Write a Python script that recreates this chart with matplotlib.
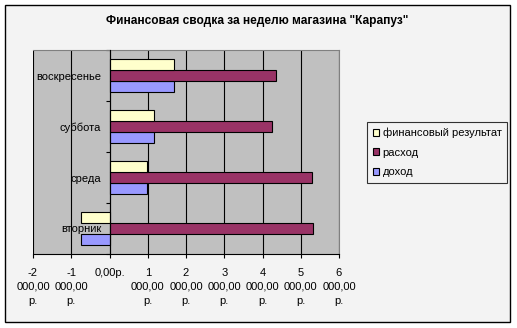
import matplotlib
matplotlib.use("Agg")
from matplotlib import pyplot as plt
from matplotlib.patches import Rectangle, Patch
import numpy as np

plt.rcParams['font.family'] = ['Liberation Sans', 'DejaVu Sans']

days = ['вторник', 'среда', 'суббота', 'воскресенье']
income = [-740, 980, 1160, 1680]
expense = [5320, 5300, 4250, 4350]
result = [-740, 980, 1160, 1680]

series_names = ['доход', 'расход', 'финансовый результат']
colors = ['#9999FF', '#993366', '#FFFFCC']

xticks = [-2000, -1000, 0, 1000, 2000, 3000, 4000, 5000, 6000]

def rub(v):
    # excel style currency label, wrapped like the narrow column does
    if v == 0:
        return '0,00р.'
    return '%d\n000,00\nр.' % (v // 1000)

fs = 8.0

fig = plt.figure(figsize=(5.17, 3.28), dpi=100, facecolor='white')
fig.patches.append(Rectangle((5/517, 1-322/328), 505/517, 317/328, transform=fig.transFigure,
                             facecolor='#F3F3F3', edgecolor='black', linewidth=1.0, zorder=-10))

ax = fig.add_axes([33/517, 1-254/328, 306/517, 204/328])
ax.set_facecolor('#C0C0C0')

y = np.arange(len(days))
h = 0.222
for off, vals, c in zip([-h, 0, h], [income, expense, result], colors):
    ax.barh(y + off, vals, height=h, color=c, edgecolor='black', linewidth=0.8, zorder=3)

ax.set_xlim(-2000, 6000)
ax.set_ylim(-0.5, 3.5)
ax.set_xticks(xticks)
ax.set_xticklabels([rub(v) for v in xticks], fontsize=fs, linespacing=1.5)
ax.tick_params(axis='x', direction='out', length=3, width=0.8, pad=7, color='black')
for v in xticks:
    ax.axvline(v, color='black', linewidth=0.8, zorder=1)

# category axis sits on zero
ax.spines['left'].set_position(('data', 0))
ax.spines['left'].set_linewidth(0.8)
ax.spines['left'].set_zorder(4)
ax.spines['bottom'].set_linewidth(0.8)
for s in ['top', 'right']:
    ax.spines[s].set_color('#808080')
    ax.spines[s].set_linewidth(0.8)
ax.set_yticks(np.arange(-0.5, 3.6, 1.0))
ax.set_yticklabels([])
ax.tick_params(axis='y', which='major', direction='out', length=3, width=0.8)
ax.set_yticks(y, minor=True)
ax.set_yticklabels(days, minor=True, fontsize=fs)
ax.tick_params(axis='y', which='minor', length=0, pad=6)
for t in ax.get_yticklabels(minor=True):
    t.set_zorder(5)

fig.text(0.497, 1-21/328, 'Финансовая сводка за неделю магазина "Карапуз"',
         ha='center', va='center', fontsize=8.6, fontweight='bold')

handles = [Patch(facecolor=colors[i], edgecolor='black', linewidth=0.8) for i in [2, 1, 0]]
labels = [series_names[i] for i in [2, 1, 0]]
leg = fig.legend(handles, labels, loc='upper left', bbox_to_anchor=(367/517, 1-122/328),
                 bbox_transform=fig.transFigure, borderaxespad=0, fontsize=fs,
                 handlelength=0.6, handleheight=0.6, handletextpad=0.3, labelspacing=0.85,
                 borderpad=0.5, fancybox=False, frameon=True)
leg.get_frame().set_edgecolor('black')
leg.get_frame().set_facecolor('#F3F3F3')
leg.get_frame().set_linewidth(0.8)

fig.savefig('out.png', dpi=100, facecolor='white')
